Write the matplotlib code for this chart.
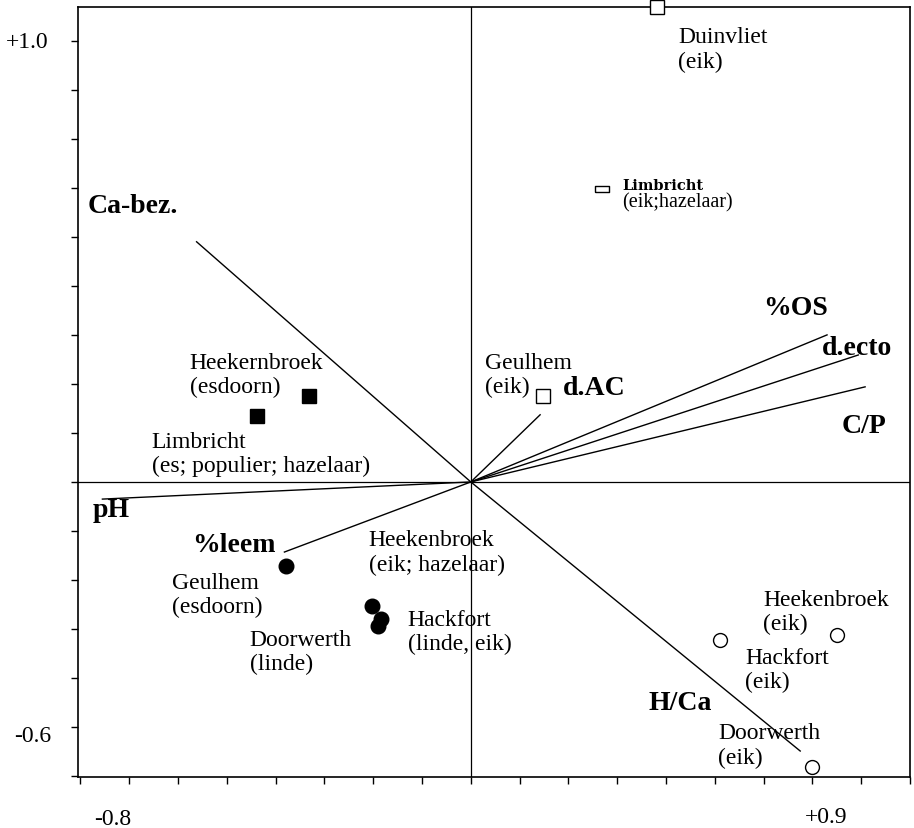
import numpy as np
import matplotlib
matplotlib.use('Agg')
import matplotlib.pyplot as plt

plt.rcParams['font.family'] = ['Liberation Serif', 'DejaVu Serif']

# site scores (axis 1, axis 2)
open_sq_names = ["Duinvliet\n(eik)", "Geulhem\n(eik)"]
open_sq_x = [0.382, 0.148]
open_sq_y = [0.968, 0.176]

small_sq_name = "Limbricht"
small_sq_sub = "(eik;hazelaar)"
small_sq_x = [0.269]
small_sq_y = [0.598]

filled_sq_names = ["Heekernbroek\n(esdoorn)", "Limbricht\n(es; populier; hazelaar)"]
filled_sq_x = [-0.332, -0.439]
filled_sq_y = [0.176, 0.135]

filled_ci_names = ["Geulhem\n(esdoorn)", "Doorwerth\n(linde)",
                   "Heekenbroek\n(eik; hazelaar)", "Hackfort\n(linde, eik)"]
filled_ci_x = [-0.379, -0.203, -0.185, -0.191]
filled_ci_y = [-0.171, -0.253, -0.280, -0.294]

open_ci_names = ["Heekenbroek\n(eik)", "Hackfort\n(eik)", "Doorwerth\n(eik)"]
open_ci_x = [0.751, 0.511, 0.699]
open_ci_y = [-0.312, -0.322, -0.582]

# environmental variables (arrow tips)
env_names = ["Ca-bez.", "pH", "%leem", "d.AC", "%OS", "d.ecto", "C/P", "H/Ca"]
env_x = [-0.562, -0.755, -0.382, 0.142, 0.730, 0.794, 0.808, 0.675]
env_y = [0.490, -0.035, -0.143, 0.137, 0.300, 0.259, 0.194, -0.549]

# label offsets in pixels (left/top of text block relative to the point)
site_off = {
    "Duinvliet\n(eik)": (21, -19),
    "Geulhem\n(eik)": (-58, 44),
    "Heekernbroek\n(esdoorn)": (-119, 44),
    "Limbricht\n(es; populier; hazelaar)": (-105, -15),
    "Geulhem\n(esdoorn)": (-114, -6),
    "Doorwerth\n(linde)": (-122, -23),
    "Heekenbroek\n(eik; hazelaar)": (-12, 90),
    "Hackfort\n(linde, eik)": (30, 17),
    "Heekenbroek\n(eik)": (-74, 46),
    "Hackfort\n(eik)": (25, -7),
    "Doorwerth\n(eik)": (-94, 45),
}
# baseline offsets for the variable names
env_off = {
    "Ca-bez.": (-109, 30, 'left'),
    "pH": (-10, -17, 'left'),
    "%leem": (-92, 1, 'left'),
    "d.AC": (23, 21, 'left'),
    "%OS": (-64, 21, 'left'),
    "d.ecto": (-36, 1, 'left'),
    "C/P": (-23, -45, 'left'),
    "H/Ca": (-88, 42, 'right'),
}

W, H = 914, 829
fig = plt.figure(figsize=(W / 100, H / 100), dpi=100)
ax = fig.add_axes([78 / W, 1 - 778 / H, 832 / W, 770 / H])
ax.set_xlim(-0.805, 0.900)
ax.set_ylim(-0.602, 0.969)

ax.axhline(0, color='black', lw=0.9)
ax.axvline(0, color='black', lw=0.9)

for x, y in zip(env_x, env_y):
    ax.plot([0, x], [0, y], color='black', lw=1.0)

ax.plot(open_sq_x, open_sq_y, ls='none', marker='s', ms=10, mfc='white',
        mec='black', mew=1.0, clip_on=False, zorder=3)
rect = [(-1, -0.45), (1, -0.45), (1, 0.45), (-1, 0.45), (-1, -0.45)]
ax.plot(small_sq_x, small_sq_y, ls='none', marker=rect, ms=10, mfc='white',
        mec='black', mew=1.0, zorder=3)
ax.plot(filled_sq_x, filled_sq_y, ls='none', marker='s', ms=10.5, color='black', zorder=3)
ax.plot(filled_ci_x, filled_ci_y, ls='none', marker='o', ms=10.5, color='black', zorder=3)
ax.plot(open_ci_x, open_ci_y, ls='none', marker='o', ms=10, mfc='white',
        mec='black', mew=1.0, zorder=3)

names = open_sq_names + filled_sq_names + filled_ci_names + open_ci_names
xs = open_sq_x + filled_sq_x + filled_ci_x + open_ci_x
ys = open_sq_y + filled_sq_y + filled_ci_y + open_ci_y
for n, x, y in zip(names, xs, ys):
    ax.annotate(n, (x, y), xytext=site_off[n], textcoords='offset pixels',
                ha='left', va='top', fontsize=17, annotation_clip=False)

ax.annotate(small_sq_name, (small_sq_x[0], small_sq_y[0]), xytext=(20, 0),
            textcoords='offset pixels', ha='left', va='baseline',
            fontsize=10.5, family='DejaVu Serif', fontweight='bold')
ax.annotate(small_sq_sub, (small_sq_x[0], small_sq_y[0]), xytext=(20, -3),
            textcoords='offset pixels', ha='left', va='top', fontsize=14.5)

for n, x, y in zip(env_names, env_x, env_y):
    dx, dy, ha = env_off[n]
    ax.annotate(n, (x, y), xytext=(dx, dy), textcoords='offset pixels',
                ha=ha, va='baseline', fontsize=20, fontweight='bold',
                annotation_clip=False)

ax.set_xticks(np.round(np.arange(-0.8, 0.91, 0.1), 1))
ax.set_yticks(np.round(np.arange(-0.6, 0.91, 0.1), 1))
ax.set_xticklabels([])
ax.set_yticklabels([])
ax.tick_params(direction='out', length=5, width=1)
for s in ax.spines.values():
    s.set_linewidth(1.2)

# axis end labels
fig.text(27 / W, 1 - 42 / H, "+1.0", ha='center', va='center', fontsize=17)
fig.text(33 / W, 1 - 737 / H, "-0.6", ha='center', va='center', fontsize=17)
fig.text(113 / W, 1 - 820 / H, "-0.8", ha='center', va='center', fontsize=17)
fig.text(826 / W, 1 - 818 / H, "+0.9", ha='center', va='center', fontsize=17)

fig.savefig('out.png', dpi=100)
